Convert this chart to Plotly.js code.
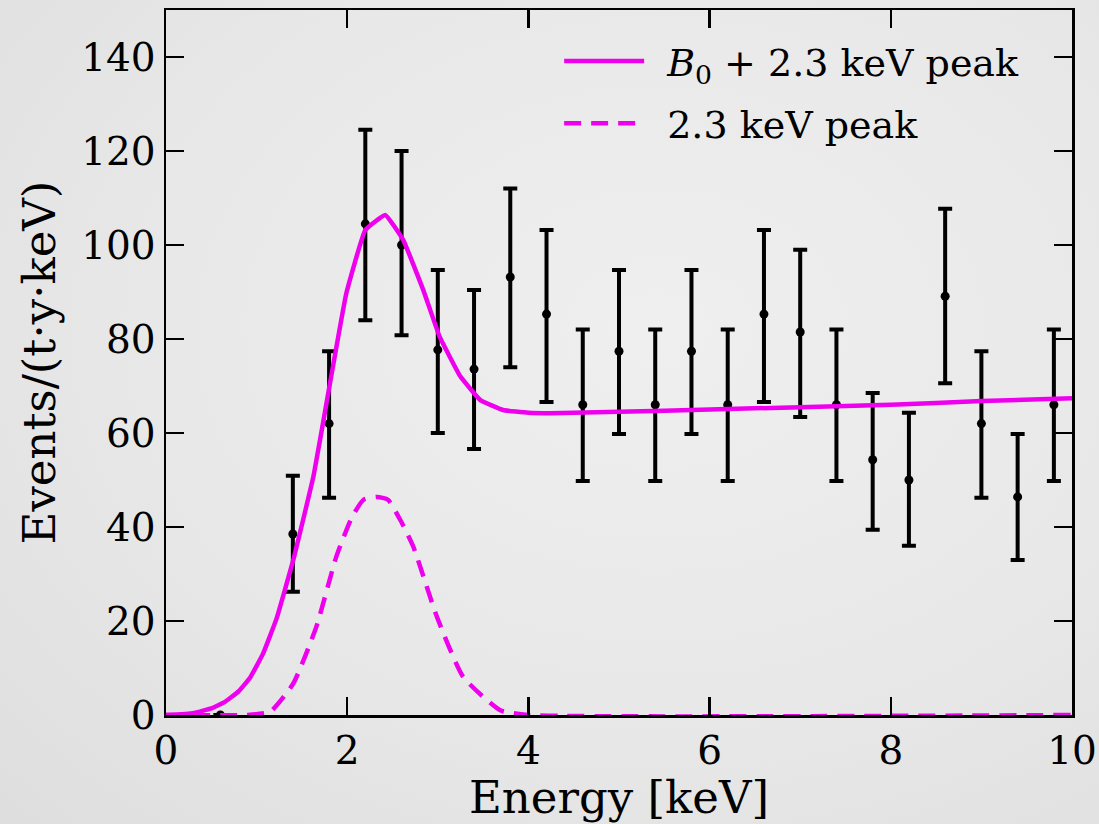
<!DOCTYPE html>
<html>
<head>
<meta charset="utf-8">
<script src="https://cdn.plot.ly/plotly-3.0.1.min.js"></script>
<style>
html,body{margin:0;padding:0;}
body{width:1099px;height:824px;background:radial-gradient(ellipse at 60% 40%, #efefef 0%, #e8e8e8 55%, #dedede 100%);}
#chart{width:1099px;height:824px;}
</style>
</head>
<body>
<div id="chart"></div>
<script>
// Measured data points
const dataE = [0.6, 1.4, 1.8, 2.2, 2.6, 3.0, 3.4, 3.8, 4.2, 4.6, 5.0, 5.4, 5.8, 6.2, 6.6, 7.0, 7.4, 7.8, 8.2, 8.6, 9.0, 9.4, 9.8];
const dataRate = [0, 38.5, 62, 104.5, 100, 77.7, 73.6, 93.2, 85.3, 66, 77.4, 66, 77.4, 66, 85.3, 81.5, 66, 54.3, 50, 89.1, 62, 46.4, 66];
const errUp = [0, 12.4, 15.4, 20, 20, 17, 16.8, 18.8, 17.9, 16, 17.3, 16, 17.3, 16, 17.9, 17.5, 16, 14.2, 14.3, 18.6, 15.4, 13.4, 16];
const errDown = [0, 12.3, 15.8, 20.5, 19.2, 17.7, 17, 19.2, 18.7, 16.2, 17.6, 16.2, 17.6, 16.2, 18.7, 18.1, 16.2, 14.9, 14, 18.5, 15.8, 13.4, 16.2];

// B0 + 2.3 keV peak model
const modelE = [0, 0.3, 0.5, 0.65, 0.8, 0.93, 1.07, 1.22, 1.405, 1.63, 1.81, 1.99, 2.2, 2.42, 2.62, 2.84, 3.02, 3.25, 3.47, 3.72, 4.0, 4.24, 5, 6, 7, 8, 9, 10];
const modelRate = [0, 0.4, 1.4, 2.8, 5, 8, 13, 20.5, 33, 51, 70.6, 89.7, 103.2, 106.4, 101, 90.4, 80.5, 72, 67, 64.9, 64.3, 64.2, 64.5, 65, 65.5, 66, 66.8, 67.4];

// 2.3 keV peak only
const peakE = [0, 0.9, 1.15, 1.405, 1.66, 1.88, 2.05, 2.18, 2.33, 2.45, 2.6, 2.73, 2.99, 3.28, 3.69, 4.0, 10];
const peakRate = [0, 0, 0.7, 6.7, 18.8, 33.7, 42, 45.8, 46.4, 45.8, 41, 35.8, 20.9, 8.1, 1, 0, 0];

const magenta = '#ee00ee';
const fontFam = '"DejaVu Serif", serif';

const traces = [
  {
    x: dataE, y: dataRate, type: 'scatter', mode: 'markers',
    marker: {color: 'black', size: 9},
    error_y: {type: 'data', symmetric: false, array: errUp, arrayminus: errDown,
              color: 'black', thickness: 4, width: 7},
    showlegend: false, hoverinfo: 'x+y'
  },
  {
    x: modelE, y: modelRate, type: 'scatter', mode: 'lines',
    line: {color: magenta, width: 4.5, shape: 'spline', smoothing: 0.3},
    name: '<i>B</i><sub>0</sub> + 2.3 keV peak', legendgroup: 'a'
  },
  {
    x: peakE, y: peakRate, type: 'scatter', mode: 'lines',
    line: {color: magenta, width: 4.5, dash: '17px,10px', shape: 'spline', smoothing: 0.5},
    name: '2.3 keV peak', legendgroup: 'b'
  }
];

const layout = {
  width: 1099, height: 824,
  margin: {l: 166, r: 27, t: 10, b: 109},
  paper_bgcolor: 'rgba(0,0,0,0)',
  plot_bgcolor: 'rgba(0,0,0,0)',
  font: {family: fontFam, color: 'black', size: 39},
  xaxis: {
    range: [0, 10], tickvals: [0, 2, 4, 6, 8, 10],
    ticks: 'inside', ticklen: 18, tickwidth: 2.5, tickcolor: 'black',
    showline: true, linecolor: 'black', linewidth: 2.5, mirror: 'ticks',
    showgrid: false, zeroline: false,
    tickfont: {family: fontFam, size: 39},
    title: {text: 'Energy [keV]', font: {family: fontFam, size: 45}, standoff: 4}
  },
  yaxis: {
    range: [0, 150], tickvals: [0, 20, 40, 60, 80, 100, 120, 140],
    ticks: 'inside', ticklen: 18, tickwidth: 2.5, tickcolor: 'black',
    showline: true, linecolor: 'black', linewidth: 2.5, mirror: 'ticks',
    showgrid: false, zeroline: false,
    tickfont: {family: fontFam, size: 39},
    title: {text: 'Events/(t·y·keV)', font: {family: fontFam, size: 45}, standoff: 12}
  },
  legend: {
    x: 0.509, y: 0.972, xanchor: 'left', yanchor: 'top',
    bgcolor: 'rgba(0,0,0,0)', borderwidth: 0,
    font: {family: fontFam, size: 38},
    traceorder: 'grouped', tracegroupgap: 10
  }
};

Plotly.newPlot('chart', traces, layout, {displayModeBar: false, staticPlot: true}).then(function (gd) {
  // let legend samples extend outside the legend box, and lengthen them like the reference
  gd.querySelectorAll('.legend [clip-path]').forEach(function (el) {
    el.removeAttribute('clip-path');
  });
  gd.querySelectorAll('.legend .legendlines path').forEach(function (p) {
    p.setAttribute('d', 'M-63,0h80');
  });
});
</script>
</body>
</html>
